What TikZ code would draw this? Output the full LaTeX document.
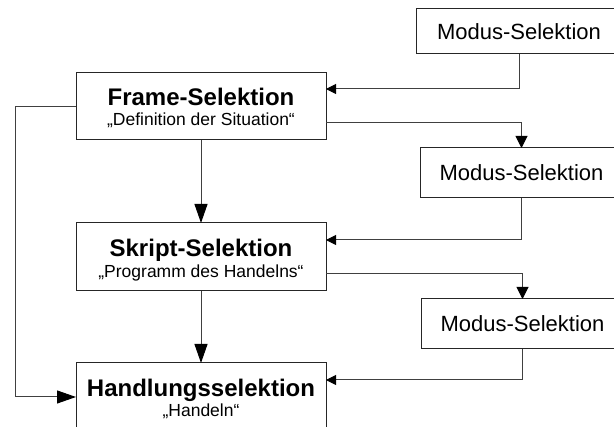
\documentclass[tikz,border=0pt]{standalone}
\usepackage{fontspec}
\setmainfont{Liberation Sans}
\usetikzlibrary{arrows.meta}
\begin{document}
\begin{tikzpicture}[x=1pt,y=-1pt,
  box/.style={draw=black!85, line width=1pt, rectangle, inner sep=0pt, outer sep=0pt},
  stage/.style={box, minimum width=250pt, minimum height=68pt},
  modus/.style={box, minimum width=203pt, minimum height=50pt, font=\fontsize{22}{26}\selectfont},
  title/.style={font=\bfseries\fontsize{24}{28}\selectfont, inner sep=0pt, anchor=base},
  sub/.style={font=\fontsize{17.5}{21}\selectfont, inner sep=0pt, anchor=base},
  link/.style={draw=black!75, line width=1pt},
  big/.style={-{Triangle[length=19pt,width=13pt,color=black]}},
  down/.style={-{Triangle[length=12pt,width=12pt,color=black]}},
  small/.style={-{Triangle[length=10pt,width=10pt,color=black]}}]

\useasboundingbox (0,0) rectangle (614,427);

% the three selection stages
\node[stage, minimum height=67pt] (frame) at (201,106.5) {};
\node[title] (frameT) at (201,105.5) {Frame-Selektion};
\node[sub] (frameS) at (201,126) {„Definition der Situation“};

\node[stage] (skript) at (201,257) {};
\node[title] (skriptT) at (201,256.5) {Skript-Selektion};
\node[sub] (skriptS) at (201,278) {„Programm des Handelns“};

\node[stage] (hand) at (201,397) {};
\node[title] (handT) at (201,396.5) {Handlungsselektion};
\node[sub] (handS) at (201,417) {„Handeln“};

% mode selection boxes
\node[modus, minimum width=206pt, minimum height=45pt] (m1) at (519,31.5) {Modus-Selektion};
\node[modus] (m2) at (521.5,173) {Modus-Selektion};
\node[modus] (m3) at (522.5,324) {Modus-Selektion};

% main flow
\draw[link, big] (frame.south) -- (skript.north);
\draw[link, big] (skript.south) -- (hand.north);
\coordinate (bypass) at (15,397);
\draw[link, big] (frame.west) -| (bypass) -- (hand.west);

% mode selection loops
\draw[link, small] (m1.south) |- ([yshift=17.5pt]frame.east);
\draw[link, down] ([yshift=-16.5pt]frame.east) -| (m2.north);
\draw[link, small] (m2.south) |- ([yshift=17pt]skript.east);
\draw[link, down] ([yshift=-17pt]skript.east) -| (m3.north);
\draw[link, small] (m3.south) |- ([yshift=17pt]hand.east);
\end{tikzpicture}
\end{document}
